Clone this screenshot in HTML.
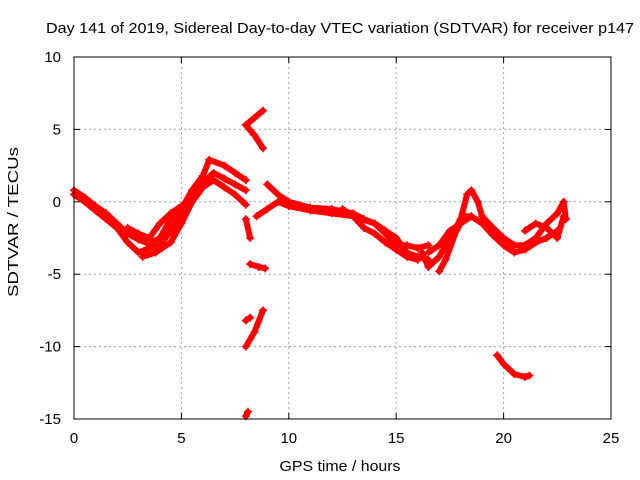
<!DOCTYPE html>
<html><head><meta charset="utf-8"><style>
body{margin:0;background:#fff}
svg{display:block;font-family:"Liberation Sans",sans-serif}
</style></head><body>
<svg id="chart" width="640" height="480" viewBox="0 0 640 480">
<text x="340" y="33" font-size="15" text-anchor="middle" textLength="588" lengthAdjust="spacingAndGlyphs">Day 141 of 2019, Sidereal Day-to-day VTEC variation (SDTVAR) for receiver p147</text>
<text x="340" y="471" font-size="15" text-anchor="middle" textLength="121" lengthAdjust="spacingAndGlyphs">GPS time / hours</text>
<text x="18" y="222" font-size="15" text-anchor="middle" textLength="150" lengthAdjust="spacingAndGlyphs" transform="rotate(-90 18 222)">SDTVAR / TECUs</text>
<g id="grid"></g><g id="ticks"></g><g id="marks"></g>
<rect x="74" y="57" width="537" height="362" fill="none" stroke="#000" stroke-width="1"/>
</svg>
<script>
const xTicks=[0,5,10,15,20,25];
const yTicks=[10,5,0,-5,-10,-15];
const trackA=[[0,0.8],[0.5,0.3],[1,-0.3],[1.5,-0.8],[2,-1.5],[2.5,-2.2],[3,-2.6],[3.5,-2.9],[4,-2.5],[4.5,-1.2],[5,-0.5],[5.5,0.8],[6,1.8],[6.3,2.9],[7,2.5],[7.5,2.0],[8,1.5]];
const trackB=[[0,0.5],[0.5,0],[1,-0.6],[1.5,-1.2],[2,-1.8],[2.5,-2.8],[3,-3.5],[3.5,-3.2],[4,-3.0],[4.5,-2.0],[5,-0.8],[5.5,0.3],[6,1.3],[6.5,2.0],[7,1.6],[7.5,1.2],[8,0.8]];
const trackC=[[2.5,-1.8],[3,-2.2],[3.5,-2.5],[4,-1.5],[4.5,-0.8],[5,-0.3]];
const trackD=[[3.2,-3.8],[3.8,-3.5],[4.5,-2.8],[5,-1.5],[5.5,0],[6,1.0],[6.5,1.5],[7,1.0],[7.5,0.5],[8,-0.2]];
const trackE=[[8,5.3],[8.4,5.8],[8.8,6.3]];
const trackF=[[8,5.3],[8.4,4.6],[8.8,3.7]];
const trackG=[[8.2,-4.3],[8.6,-4.5],[8.9,-4.6]];
const trackH=[[8,-10],[8.4,-9],[8.8,-7.5]];
const trackI=[[8,-8.2],[8.2,-8.0]];
const trackJ=[[8,-14.8],[8.1,-14.5]];
const trackK=[[8,-1.2],[8.2,-2.5]];
const trackL=[[8.5,-1.0],[9,-0.5],[9.5,0],[10,-0.3],[11,-0.6],[12,-0.8],[13,-1.0],[14,-1.5],[14.5,-2],[15,-2.5],[15.5,-3.5],[16,-3.8],[16.5,-4.0]];
const trackM=[[9,1.2],[9.5,0.5],[10,0],[11,-0.4],[12,-0.5],[13,-0.8],[13.5,-1.2],[14,-1.5],[14.5,-2.2],[15,-3],[15.5,-3.0],[16,-3.2],[16.5,-3.0]];
const trackN=[[12.5,-0.5],[13,-1.0],[13.5,-1.8],[14,-2.2],[14.5,-2.8],[15,-3.3],[15.5,-3.8],[16,-4.0]];
const trackO=[[16.2,-3.5],[16.5,-4.5],[17,-3.8],[17.5,-2.5],[18,-1.2],[18.3,0.5],[18.5,0.8],[18.8,0],[19,-1.0],[19.5,-1.8],[20,-2.5],[20.5,-3.0],[21,-3.0],[21.5,-2.5],[22,-1.5],[22.5,-0.8],[22.8,0],[22.9,-1.2]];
const trackP=[[16.5,-3.5],[17,-3.0],[17.5,-2.0],[18,-1.5],[18.5,-1.0],[19,-1.5],[19.5,-2.3],[20,-3.0],[20.5,-3.5],[21,-3.3],[21.5,-2.8],[22,-2.5],[22.5,-2.0]];
const trackQ=[[17,-4.8],[17.3,-4.0],[17.8,-2.0],[18.2,-1.0],[18.5,-1.0]];
const trackR=[[19.7,-10.6],[20,-11.2],[20.5,-11.9],[21,-12.1],[21.2,-12.0]];
const trackS=[[21,-2.0],[21.5,-1.5],[22,-1.8],[22.5,-2.5],[22.8,-1.0]];
const tracks=[trackA,trackB,trackC,trackD,trackE,trackF,trackG,trackH,trackI,trackJ,trackK,trackL,trackM,trackN,trackO,trackP,trackQ,trackR,trackS];
const X0=74,X1=611,Y0=419,Y1=57;
function xs(v){return X0+(v-0)/(25-0)*(X1-X0);}
function ys(v){return Y0-(v+15)/(25)*(Y0-Y1);}
const NS="http://www.w3.org/2000/svg";
function mk(t,a,p){const e=document.createElementNS(NS,t);for(const k in a)e.setAttribute(k,a[k]);p.appendChild(e);return e;}
const grid=document.getElementById('grid'),ticks=document.getElementById('ticks'),marks=document.getElementById('marks');
xTicks.forEach(v=>{const x=xs(v);
 if(v>0&&v<25){const g=mk('line',{x1:x,x2:x,y1:Y1,y2:Y0,stroke:'#a0a0a0','stroke-dasharray':'2,3','stroke-width':1},grid);
 
 }
 mk('line',{x1:x,x2:x,y1:Y0,y2:Y0-6,stroke:'#000'},ticks);mk('line',{x1:x,x2:x,y1:Y1,y2:Y1+6,stroke:'#000'},ticks);
 const t=mk('text',{x:x,y:443,'font-size':15,'text-anchor':'middle'},ticks);t.textContent=v;
 
 });
yTicks.forEach(v=>{const y=ys(v);
 if(v>-15&&v<10){const g=mk('line',{x1:X0,x2:X1,y1:y,y2:y,stroke:'#a0a0a0','stroke-dasharray':'2,3','stroke-width':1},grid);
 
 }
 mk('line',{x1:X0,x2:X0+6,y1:y,y2:y,stroke:'#000'},ticks);mk('line',{x1:X1,x2:X1-6,y1:y,y2:y,stroke:'#000'},ticks);
 const t=mk('text',{x:61,y:y+5,'font-size':15,'text-anchor':'end'},ticks);t.textContent=v;
 
 });
tracks.forEach((tr,i)=>{
 const pl=mk('polyline',{points:tr.map(p=>xs(p[0])+','+ys(p[1])).join(' '),fill:'none',stroke:'#f00','stroke-width':6,'stroke-linejoin':'round','stroke-linecap':'round'},marks);
 
 
 tr.forEach(p=>{const x=xs(p[0]),y=ys(p[1]);
  const m=mk('path',{d:`M${x-4},${y}H${x+4}M${x},${y-4}V${y+4}`,stroke:'#f00','stroke-width':1.5},marks);
  
  });
});
</script>
</body></html>
